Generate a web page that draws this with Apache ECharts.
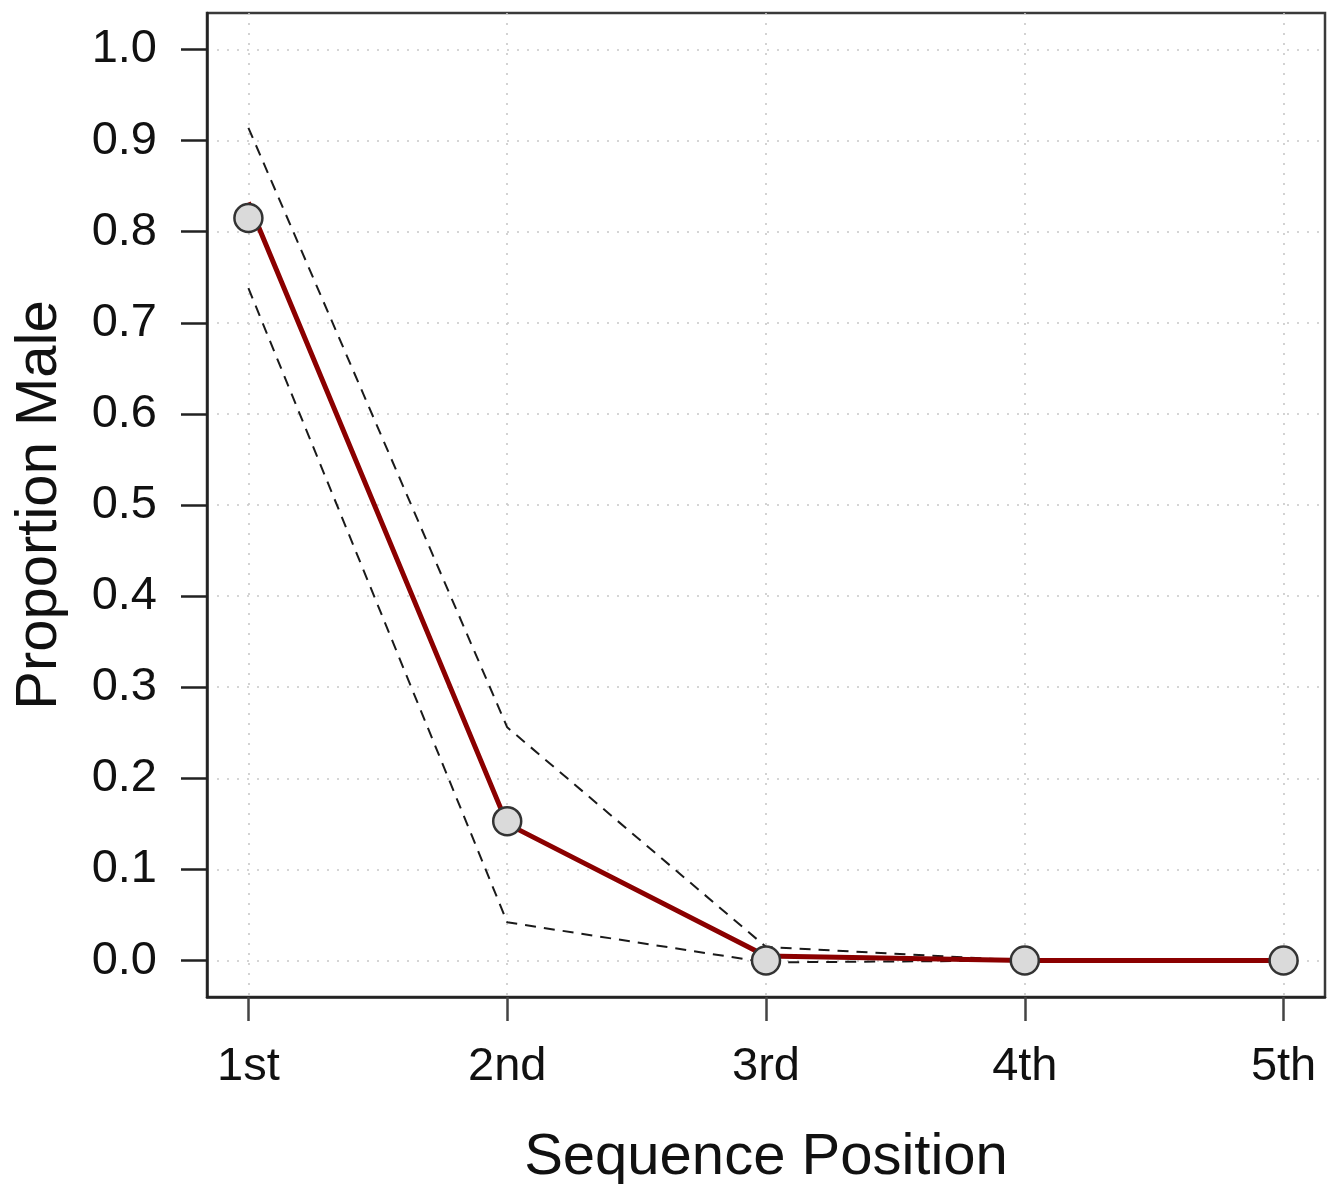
<!DOCTYPE html>
<html>
<head>
<meta charset="utf-8">
<script src="https://cdn.jsdelivr.net/npm/echarts@6/dist/echarts.min.js"></script>
<style>
html, body { margin: 0; padding: 0; background: #fff; }
#main { width: 1328px; height: 1184px; }
</style>
</head>
<body>
<div id="main"></div>
<script>
// sequence positions (x) and their labels
var positions = [1, 2, 3, 4, 5];
var positionLabels = ['1st', '2nd', '3rd', '4th', '5th'];
// y tick values
var yTicks = [0, 0.1, 0.2, 0.3, 0.4, 0.5, 0.6, 0.7, 0.8, 0.9, 1.0];

// observed proportions (circles)
var observed = [0.815, 0.153, 0.0, 0.0, 0.0];
// fitted line (red)
var fitted = [0.832, 0.150, 0.005, 0.0, 0.0];
// confidence band (dashed)
var upper = [0.914, 0.256, 0.015, 0.0, 0.0];
var lower = [0.738, 0.042, -0.002, 0.0, 0.0];

function pairs(vals) {
	return positions.map(function (x, i) { return [x, vals[i]]; });
}

var font = 'Liberation Sans, Arial, Helvetica, sans-serif';
var dashed = {
	type: 'line',
	symbol: 'none',
	silent: true,
	lineStyle: { color: '#1a1a1a', width: 2, type: [11, 8] }
};

var option = {
	animation: false,
	backgroundColor: '#fff',
	grid: {
		left: 207,
		right: 3,
		top: 13,
		bottom: 187,
		containLabel: false,
		outerBoundsMode: 'none',
		show: true,
		borderColor: '#3a3a3a',
		borderWidth: 2.5
	},
	xAxis: {
		type: 'value',
		min: 0.84,
		max: 5.16,
		name: 'Sequence Position',
		nameLocation: 'middle',
		nameGap: 132,
		nameTextStyle: { fontFamily: font, fontSize: 58, color: '#111', lineHeight: 58 },
		axisLine: { show: true, onZero: false, lineStyle: { color: '#222', width: 2.5 } },
		axisTick: { show: true, length: 24, customValues: positions, lineStyle: { color: '#444', width: 2.5 } },
		axisLabel: {
			customValues: positions,
			margin: 47,
			fontFamily: font,
			fontSize: 47,
			lineHeight: 47,
			color: '#111',
			formatter: function (v) { return positionLabels[positions.indexOf(v)] || ''; }
		},
		splitLine: { show: true, lineStyle: { color: '#c8c8c8', width: 1.6, type: [2, 8] } }
	},
	yAxis: {
		type: 'value',
		min: -0.04,
		max: 1.04,
		name: 'Proportion Male',
		nameLocation: 'middle',
		nameGap: 138,
		nameTextStyle: { fontFamily: font, fontSize: 58, color: '#111', lineHeight: 58 },
		axisLine: { show: true, onZero: false, lineStyle: { color: '#222', width: 2.5 } },
		axisTick: { show: true, length: 26, customValues: yTicks, lineStyle: { color: '#222', width: 2.5 } },
		axisLabel: {
			customValues: yTicks,
			margin: 50,
			fontFamily: font,
			fontSize: 47,
			color: '#111',
			formatter: function (v) { return v.toFixed(1); }
		},
		splitLine: { show: true, lineStyle: { color: '#c8c8c8', width: 1.6, type: [2, 8] } }
	},
	series: [
		{
			name: 'observed',
			type: 'line',
			data: pairs(observed),
			symbol: 'circle',
			symbolSize: 28,
			lineStyle: { width: 0, opacity: 0 },
			itemStyle: { color: '#dadada', borderColor: '#333', borderWidth: 2.5 }
		},
		Object.assign({ name: 'upper', data: pairs(upper) }, dashed),
		Object.assign({ name: 'lower', data: pairs(lower) }, dashed),
		{
			name: 'fitted',
			type: 'line',
			data: pairs(fitted),
			symbol: 'none',
			lineStyle: { color: '#8b0000', width: 5 }
		}
	]
};

var myChart = echarts.init(document.getElementById('main'));
myChart.setOption(option, true);
</script>
</body>
</html>
